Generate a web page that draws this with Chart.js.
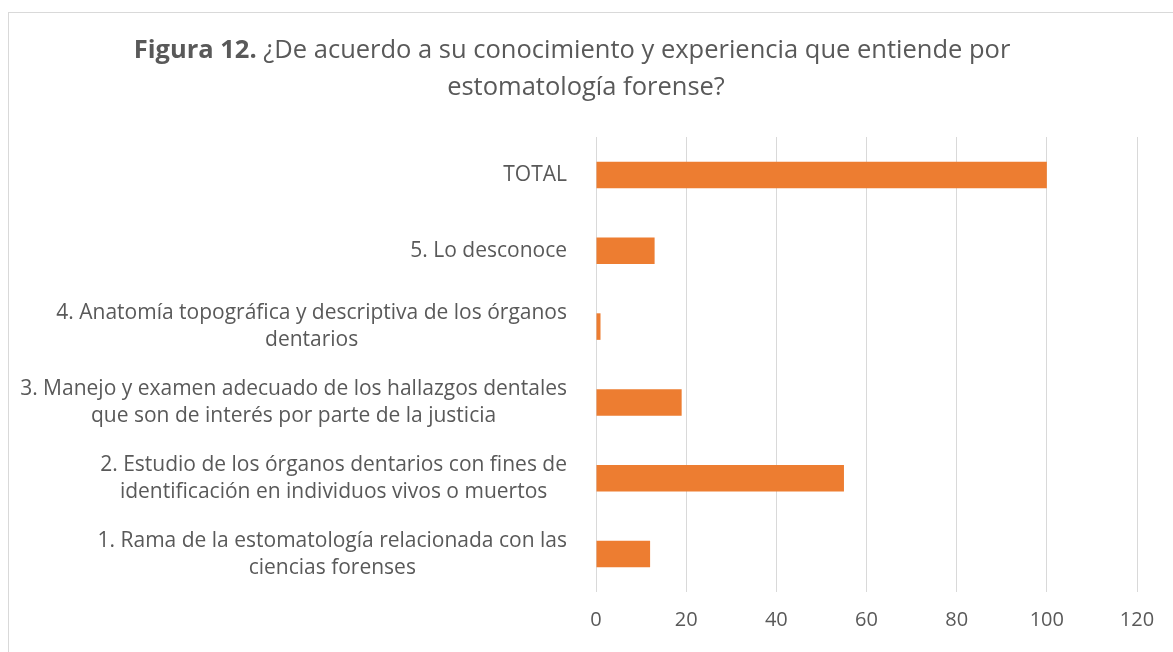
<!DOCTYPE html>
<html>
<head>
<meta charset="utf-8">
<script src="https://cdn.jsdelivr.net/npm/chart.js@4/dist/chart.umd.min.js"></script>
<style>
    html, body { margin: 0; padding: 0; background: #fff; }
    #marco {
        position: absolute; left: 8px; top: 12px;
        width: 1200px; height: 700px;
        border: 1px solid #d9d9d9;
    }
    #caja { position: absolute; left: 0; top: 0; width: 1173px; height: 652px; }
</style>
</head>
<body>
<div id="marco"></div>
<div id="caja"><canvas id="myChart"></canvas></div>
<script>
// datos (de arriba hacia abajo)
const categorias = [
    ['TOTAL'],
    ['5. Lo desconoce'],
    ['4. Anatomía topográfica y descriptiva de los órganos', 'dentarios'],
    ['3. Manejo y examen adecuado de los hallazgos dentales', 'que son de interés por parte de la justicia'],
    ['2. Estudio de los órganos dentarios con fines de', 'identificación en individuos vivos o muertos'],
    ['1. Rama de la estomatología relacionada con las', 'ciencias forenses']
];
const valores = [100, 13, 1, 19, 55, 12];
const ticksX = [0, 20, 40, 60, 80, 100, 120];

const tituloNegrita = 'Figura 12.';
const tituloResto = ' ¿De acuerdo a su conocimiento y experiencia que entiende por';
const tituloLinea2 = 'estomatología forense?';

const fuente = '"Open Sans", Lato, sans-serif';
const gris = '#595959';

// titulo con parte en negrita y etiquetas del eje Y estilo Excel
const dibujarTextos = {
    id: 'dibujarTextos',
    afterDraw(chart) {
        const ctx = chart.ctx;
        ctx.save();
        ctx.fillStyle = gris;
        ctx.textBaseline = 'middle';

        // titulo
        ctx.font = 'bold 25.5px ' + fuente;
        let w1 = ctx.measureText(tituloNegrita).width;
        ctx.font = '25.5px ' + fuente;
        let w2 = ctx.measureText(tituloResto).width;
        let x0 = 572 - (w1 + w2) / 2;
        ctx.textAlign = 'left';
        ctx.font = 'bold 25.5px ' + fuente;
        ctx.fillText(tituloNegrita, x0, 51);
        ctx.font = '25.5px ' + fuente;
        ctx.fillText(tituloResto, x0 + w1, 51);
        ctx.textAlign = 'center';
        ctx.fillText(tituloLinea2, 586, 88);

        // etiquetas de categorias
        const y = chart.scales.y;
        ctx.font = '21px ' + fuente;
        const derecha = 567;
        const paso = 27;
        categorias.forEach((lineas, i) => {
            const centro = y.getPixelForTick(i);
            let ancho = 0;
            lineas.forEach(l => { ancho = Math.max(ancho, ctx.measureText(l).width); });
            const cx = derecha - ancho / 2;
            const y0 = centro - (lineas.length - 1) * paso / 2;
            lineas.forEach((l, j) => {
                ctx.fillText(l, cx, y0 + j * paso);
            });
        });
        ctx.restore();
    }
};

const config = {
    type: 'bar',
    data: {
        labels: categorias.map(c => c.join(' ')),
        datasets: [{
            data: valores,
            backgroundColor: '#ED7D31',
            borderWidth: 0,
            barPercentage: 0.35,
            categoryPercentage: 1
        }]
    },
    options: {
        indexAxis: 'y',
        responsive: true,
        maintainAspectRatio: false,
        animation: false,
        layout: {
            padding: { top: 137, right: 36, bottom: 4, left: 0 }
        },
        plugins: {
            legend: { display: false },
            title: { display: false },
            tooltip: { enabled: false }
        },
        scales: {
            x: {
                min: 0,
                max: 120,
                afterBuildTicks: scale => {
                    scale.ticks = ticksX.map(v => ({ value: v }));
                },
                grid: { color: '#d9d9d9', lineWidth: 1, drawTicks: false },
                border: { display: false },
                ticks: {
                    color: gris,
                    padding: 16,
                    font: { family: fuente, size: 20 }
                }
            },
            y: {
                grid: { display: false },
                border: { display: false },
                ticks: { display: false },
                afterFit: scale => { scale.width = 596; }
            }
        }
    },
    plugins: [dibujarTextos]
};

const myChart = new Chart(document.getElementById('myChart'), config);
</script>
</body>
</html>
